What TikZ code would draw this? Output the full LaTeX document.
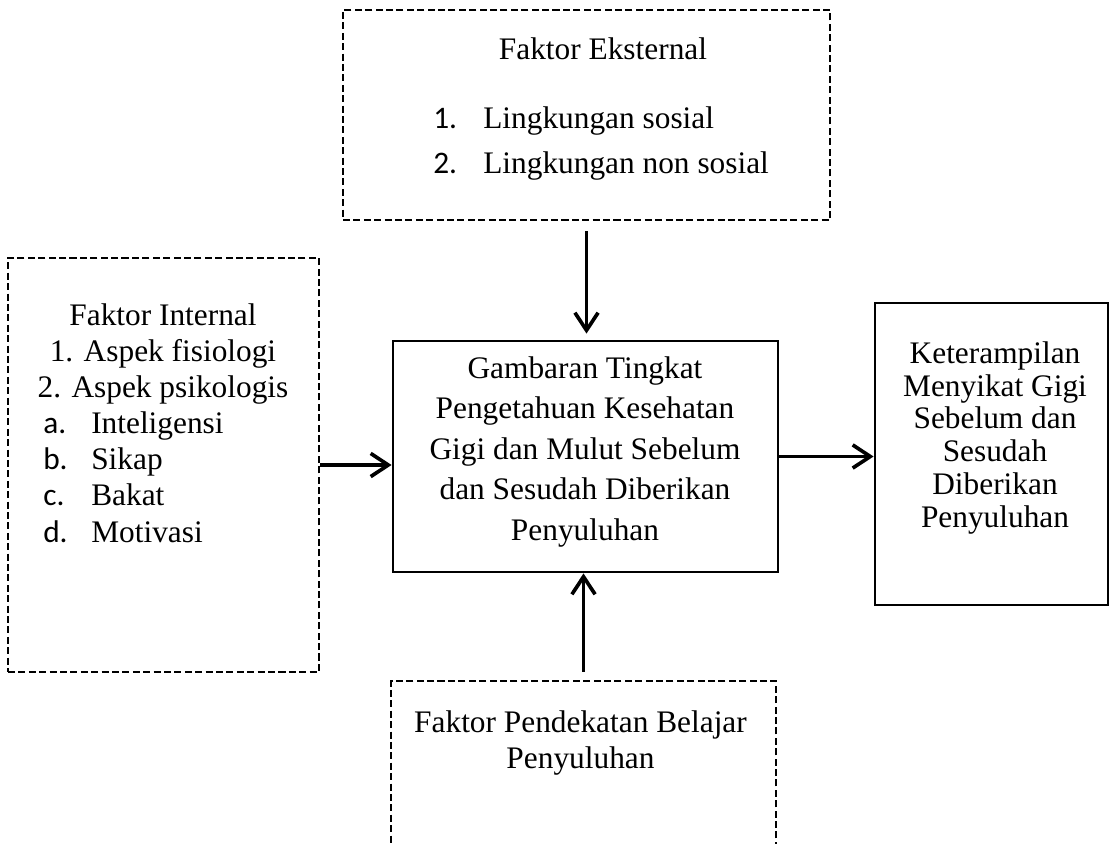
\documentclass[tikz,border=0pt]{standalone}
\usepackage{fontspec}
\setmainfont{Liberation Serif}
\newfontfamily\calfont{Carlito}
\usepackage{tikz}
\usetikzlibrary{arrows.meta}

\newcommand{\itemno}[2][1.25cm]{\makebox[#1][l]{\calfont #2}}

\tikzset{
    dbox/.style={draw, line width=2pt, dash pattern=on 5pt off 2.4pt, inner sep=0pt},
    sbox/.style={draw, line width=2pt, inner sep=0pt},
    lbl/.style={inner sep=0pt, font=\fontsize{22.3}{#1}\selectfont},
    arr/.style={line width=2.6pt, -{Straight Barb[length=0.44cm,width=0.58cm]}}
}

\begin{document}
\begin{tikzpicture}
                \useasboundingbox (0,0) rectangle (27.775,-21.075);
                \clip (0,0) rectangle (27.775,-21.075);

                \node[dbox, minimum width=12.175cm, minimum height=5.25cm] (ext) at (14.6625,-2.875) {};
                \node[lbl=31.9, anchor=base] (extTitle) at (15.075,-1.5) {Faktor Eksternal};
                \node[lbl=31.9, anchor=base west, align=left] (extList) at (10.825,-4.325)
                    {\itemno{1.}Lingkungan sosial\\ \itemno{2.}Lingkungan non sosial};

                \node[dbox, minimum width=7.775cm, minimum height=10.35cm] (int) at (4.0875,-11.625) {};
                \node[lbl=25.5, anchor=base, align=center] (intHead) at (4.075,-9.925)
                    {Faktor Internal\\1. Aspek fisiologi\\2. Aspek psikologis};
                \node[lbl=25.8, anchor=base west, align=left] (intList) at (1.075,-13.55)
                    {\itemno[1.2cm]{a.}Inteligensi\\ \itemno[1.2cm]{b.}Sikap\\
                     \itemno[1.2cm]{c.}Bakat\\ \itemno[1.2cm]{d.}Motivasi};

                \node[sbox, minimum width=9.625cm, minimum height=5.775cm] (ctr) at (14.6375,-11.4125) {};
                \node[lbl=28.7, anchor=base, align=center] (ctrText) at (14.625,-13.5)
                    {Gambaran Tingkat\\Pengetahuan Kesehatan\\Gigi dan Mulut Sebelum\\dan Sesudah Diberikan\\Penyuluhan};

                \node[sbox, minimum width=5.825cm, minimum height=7.55cm] (res) at (24.7875,-11.35) {};
                \node[lbl=23.25, anchor=base, align=center] (resText) at (24.875,-13.175)
                    {Keterampilan\\Menyikat Gigi\\Sebelum dan\\Sesudah\\Diberikan\\Penyuluhan};

                \node[dbox, minimum width=9.625cm, minimum height=4.975cm] (pend) at (14.5875,-19.5125) {};
                \node[lbl=25.5, anchor=base, align=center] (pendText) at (14.5125,-19.2)
                    {Faktor Pendekatan Belajar\\Penyuluhan};

                \draw[arr, shorten <=0.25cm, shorten >=0.15cm] (ext.south) -- (ext.south |- ctr.north);
                \draw[arr] (int.east) -- (int.east -| ctr.west);
                \draw[arr] (ctr.east) -- (ctr.east -| res.west);
                \draw[arr, shorten <=0.2cm] (pend.north) -- (pend.north |- ctr.south);
\end{tikzpicture}
\end{document}
